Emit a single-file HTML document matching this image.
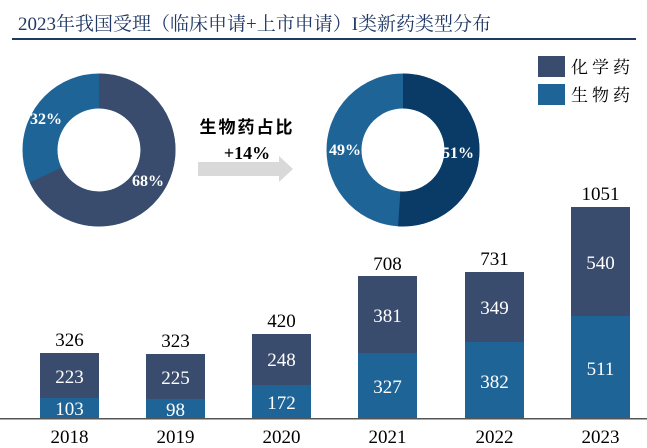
<!DOCTYPE html>
<html><head><meta charset="utf-8"><style>
body{margin:0;background:#fff;}
text{font-family:"Liberation Serif","Noto Serif CJK SC",serif;}
</style></head><body>
<svg width="647" height="443" viewBox="0 0 647 443" xmlns="http://www.w3.org/2000/svg">
<text x="18" y="30" font-size="19" fill="#1f3864" style="font-family:'Liberation Serif','Noto Serif CJK SC',serif">2023年我国受理（临床申请+上市申请）I类新药类型分布</text>
<rect x="12" y="38" width="624" height="2" fill="#1f3864"/>
<!-- donut 1 -->
<g transform="translate(99,150)">
<circle r="59" fill="none" stroke="#1f6497" stroke-width="35"/>
<circle r="59" fill="none" stroke="#394c6d" stroke-width="35" stroke-dasharray="252.1 400" transform="rotate(-90)"/>
</g>
<text x="46" y="124" font-size="16" font-weight="bold" fill="#fff" text-anchor="middle">32%</text>
<text x="148" y="186" font-size="16" font-weight="bold" fill="#fff" text-anchor="middle">68%</text>
<!-- donut 2 -->
<g transform="translate(403,150)">
<circle r="59" fill="none" stroke="#1f6497" stroke-width="35"/>
<circle r="59" fill="none" stroke="#0a3a66" stroke-width="35" stroke-dasharray="189.1 400" transform="rotate(-90)"/>
</g>
<text x="345" y="155" font-size="16" font-weight="bold" fill="#fff" text-anchor="middle">49%</text>
<text x="458" y="158" font-size="16" font-weight="bold" fill="#fff" text-anchor="middle">51%</text>
<!-- arrow -->
<polygon points="198,162 279,162 279,156 293,169 279,182 279,176 198,176" fill="#d9d9d9"/>
<text x="247" y="133" font-size="17" font-weight="bold" fill="#000" text-anchor="middle" letter-spacing="2" style="font-family:'Noto Sans CJK SC',sans-serif">生物药占比</text>
<text x="247" y="159" font-size="18" font-weight="bold" fill="#000" text-anchor="middle">+14%</text>
<!-- legend -->
<rect x="538" y="56" width="27" height="21" fill="#394c6d"/>
<rect x="538" y="84" width="27" height="21" fill="#1f6497"/>
<text x="571" y="73" font-size="17" fill="#000" letter-spacing="4">化学药</text>
<text x="571" y="101" font-size="17" fill="#000" letter-spacing="4">生物药</text>
<!-- bars -->
<g font-size="19" text-anchor="middle">
<rect x="40" y="353" width="59" height="45" fill="#394c6d"/><rect x="40" y="398" width="59" height="21" fill="#1f6497"/>
<text x="69.5" y="346">326</text><text x="69.5" y="383" fill="#fff">223</text><text x="69.5" y="415" fill="#fff">103</text>
<rect x="146" y="354" width="59" height="45" fill="#394c6d"/><rect x="146" y="399" width="59" height="20" fill="#1f6497"/>
<text x="175.5" y="347">323</text><text x="175.5" y="384" fill="#fff">225</text><text x="175.5" y="416" fill="#fff">98</text>
<rect x="252" y="334" width="59" height="51" fill="#394c6d"/><rect x="252" y="385" width="59" height="34" fill="#1f6497"/>
<text x="281.5" y="327">420</text><text x="281.5" y="366" fill="#fff">248</text><text x="281.5" y="409" fill="#fff">172</text>
<rect x="358" y="276" width="59" height="77" fill="#394c6d"/><rect x="358" y="353" width="59" height="66" fill="#1f6497"/>
<text x="387.5" y="270">708</text><text x="387.5" y="322" fill="#fff">381</text><text x="387.5" y="393" fill="#fff">327</text>
<rect x="465" y="272" width="59" height="70" fill="#394c6d"/><rect x="465" y="342" width="59" height="77" fill="#1f6497"/>
<text x="494.5" y="265">731</text><text x="494.5" y="314" fill="#fff">349</text><text x="494.5" y="388" fill="#fff">382</text>
<rect x="571" y="207" width="59" height="109" fill="#394c6d"/><rect x="571" y="316" width="59" height="103" fill="#1f6497"/>
<text x="600.5" y="200">1051</text><text x="600.5" y="269" fill="#fff">540</text><text x="600.5" y="375" fill="#fff">511</text>
</g>
<rect x="0" y="418" width="647" height="1.5" fill="#555"/>
<g font-size="19" text-anchor="middle">
<text x="69.5" y="443">2018</text><text x="175.5" y="443">2019</text><text x="281.5" y="443">2020</text>
<text x="387.5" y="443">2021</text><text x="494.5" y="443">2022</text><text x="600.5" y="443">2023</text>
</g>
</svg>
</body></html>
